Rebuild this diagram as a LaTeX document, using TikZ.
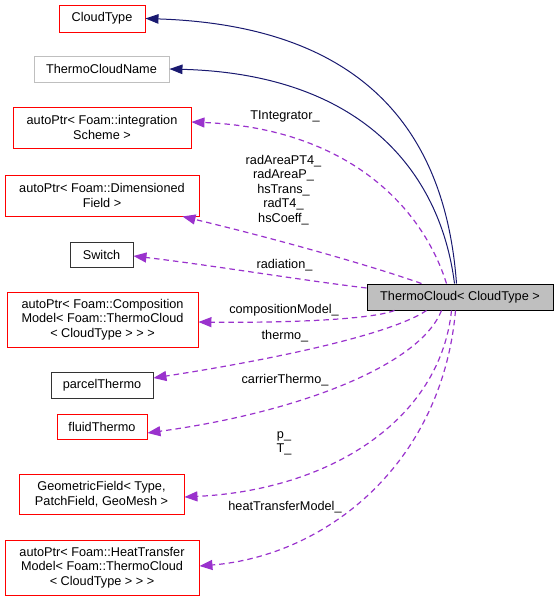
\documentclass[tikz,border=0pt]{standalone}
\usepackage{fontspec}
\setmainfont{Liberation Sans}
\usetikzlibrary{arrows.meta}
\definecolor{navyedge}{HTML}{191970}
\definecolor{purpedge}{HTML}{9A32CD}
\definecolor{redbox}{HTML}{FF0000}
\definecolor{graybox}{HTML}{BFBFBF}
\begin{document}
\begin{tikzpicture}[x=1pt,y=-1pt,
  every node/.style={font=\fontsize{12.7}{14.5}\selectfont, inner sep=0pt, align=center},
  box/.style={draw, line width=0.9pt},
  redb/.style={box, draw=redbox},
  grayb/.style={box, draw=graybox},
  blackb/.style={box, draw=black!80},
  inh/.style={draw=navyedge, line width=1pt, -{Triangle[length=13pt,width=9.5pt]}, fill=none},
  use/.style={draw=purpedge, line width=1.2pt, dash pattern=on 5.5pt off 4pt, -{Triangle[length=13pt,width=10pt,fill=purpedge]}},
  lbl/.style={text=black}
]
\useasboundingbox (0,0) rectangle (559,601);

% nodes
\node[redb, minimum width=86pt, minimum height=27pt] (ct) at (102,18.5) {CloudType};
\node[grayb, minimum width=135pt, minimum height=26pt] (tcn) at (101.5,69) {ThermoCloudName};
\node[redb, minimum width=178pt, minimum height=41pt] (ti) at (102,127.5) {autoPtr< Foam::integration\\Scheme >};
\node[redb, minimum width=194pt, minimum height=41pt] (df) at (102,195.5) {autoPtr< Foam::Dimensioned\\Field >};
\node[blackb, minimum width=63pt, minimum height=25pt] (sw) at (101.5,254.5) {Switch};
\node[redb, minimum width=191pt, minimum height=55pt] (cm) at (102.5,319.5) {autoPtr< Foam::Composition\\Model< Foam::ThermoCloud\\< CloudType > > >};
\node[blackb, minimum width=102pt, minimum height=26pt] (pt) at (102,385) {parcelThermo};
\node[redb, minimum width=90pt, minimum height=25pt] (ft) at (102,426.5) {fluidThermo};
\node[redb, minimum width=165pt, minimum height=40pt] (gf) at (101.5,494) {GeometricField< Type,\\ PatchField, GeoMesh >};
\node[redb, minimum width=194pt, minimum height=55pt] (ht) at (102,567.5) {autoPtr< Foam::HeatTransfer\\Model< Foam::ThermoCloud\\< CloudType > > >};
\node[draw=black, line width=1pt, fill=graybox, minimum width=186pt, minimum height=26pt] (tc) at (460,297) {ThermoCloud< CloudType >};

% inheritance edges
\draw[inh] ([xshift=90pt]tc.north west) .. controls (446,140) and (372,26) .. (ct.east);
\draw[inh] ([xshift=88pt]tc.north west) .. controls (440,170) and (360,74) .. (tcn.east);

% usage edges
\draw[use] ([xshift=80pt]tc.north west) .. controls (420,200) and (340,128) .. ([yshift=5.5pt]ti.east);
\draw[use] ([xshift=55pt]tc.north west) .. controls (360,262) and (260,235) .. ([xshift=-17pt]df.south east);
\draw[use] ([yshift=9pt]tc.west) .. controls (300,280) and (210,265) .. ([yshift=-1.5pt]sw.east);
\draw[use] ([xshift=28pt]tc.south west) .. controls (370,320) and (280,323) .. ([yshift=-2.5pt]cm.east);
\draw[use] ([xshift=60pt]tc.south west) .. controls (390,335) and (270,360) .. ([yshift=7pt]pt.east);
\draw[use] ([xshift=75pt]tc.south west) .. controls (420,365) and (300,412) .. ([yshift=-6.5pt]ft.east);
\draw[use] ([xshift=85pt]tc.south west) .. controls (440,420) and (330,490) .. ([yshift=-3pt]gf.east);
\draw[use] ([xshift=89pt]tc.south west) .. controls (442,465) and (325,556) .. ([yshift=1.5pt]ht.east);

% edge labels
\node[lbl] (l1) at (285,116) {TIntegrator\_};
\node[lbl] (l2) at (283.5,190) {radAreaPT4\_\\radAreaP\_\\hsTrans\_\\radT4\_\\hsCoeff\_};
\node[lbl] (l3) at (284.5,265) {radiation\_};
\node[lbl] (l4) at (284,310.5) {compositionModel\_};
\node[lbl] (l5) at (285,336) {thermo\_};
\node[lbl] (l6) at (285,380.5) {carrierThermo\_};
\node[lbl] (l7) at (284,443.5) {p\_\\T\_};
\node[lbl] (l8) at (285,507.5) {heatTransferModel\_};
\end{tikzpicture}
\end{document}
